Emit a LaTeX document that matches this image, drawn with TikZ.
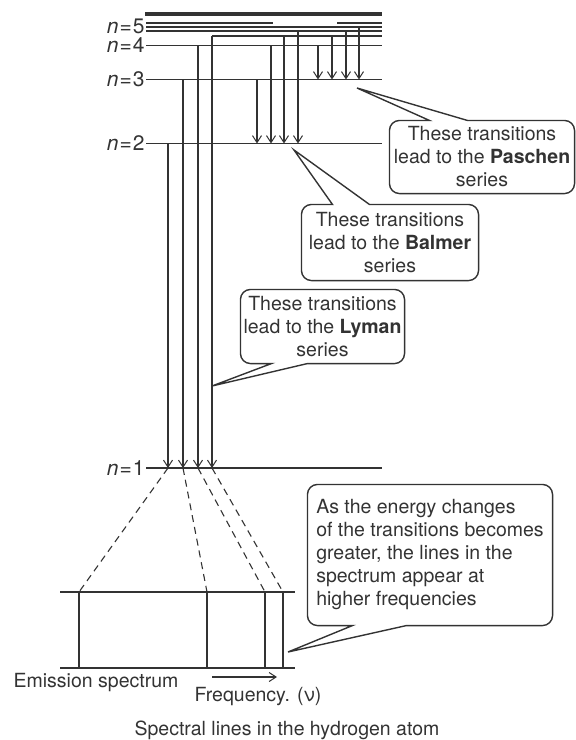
\documentclass[tikz,border=0pt]{standalone}
\usepackage{fontspec}
\setmainfont{TeX Gyre Heros}
\usepackage{tikz}
\usetikzlibrary{calc}
\usetikzlibrary{arrows.meta}

\begin{document}
\begin{tikzpicture}[x=1pt,y=-1pt,color=black!80,line width=1.1pt,
	  level/.style={line width=1.2pt},
	  trans/.style={-{Straight Barb[length=7pt,width=9pt,line width=1pt]},line width=1.1pt},
	  proj/.style={dash pattern=on 7pt off 5pt,line width=1.1pt},
	  callout/.style={line width=1.4pt},
	  note/.style={font=\fontsize{19.5}{23}\selectfont,align=center,inner sep=0pt},
	  lbl/.style={font=\fontsize{21}{24}\selectfont,anchor=east,inner sep=1pt}]

	  \useasboundingbox (0,0) rectangle (576,740);

	  \coordinate (lvtop) at (0,14);
	  \coordinate (lv8) at (0,23);
	  \coordinate (lv7) at (0,27);
	  \coordinate (lv6) at (0,31);
	  \coordinate (lv5) at (0,36);
	  \coordinate (lv4) at (0,45.5);
	  \coordinate (lv3) at (0,79.5);
	  \coordinate (lv2) at (0,143.5);
	  \coordinate (lv1) at (0,468);

	  \node[lbl] (n5) at (146,26) {\textit{n}\kern1pt=\kern1pt5};
	  \node[lbl] (n4) at (146,45.5) {\textit{n}\kern1pt=\kern1pt4};
	  \node[lbl] (n3) at (146,79.5) {\textit{n}\kern1pt=\kern1pt3};
	  \node[lbl] (n2) at (146,143.5) {\textit{n}\kern1pt=\kern1pt2};
	  \node[lbl] (n1) at (146,468) {\textit{n}\kern1pt=\kern1pt1};

	  \draw[line width=4pt] (145,0 |- lvtop) -- (382,0 |- lvtop);
	  \draw[level] (146,0 |- lv8) -- (273,0 |- lv8) (337,0 |- lv8) -- (382,0 |- lv8);
	  \foreach \k in {1,2,3,4,6,7}
	    \draw[level] (146,0 |- lv\k) -- (382,0 |- lv\k);
	  \draw[level] (212,0 |- lv5) -- (382,0 |- lv5);

	  \foreach \x/\a/\b in {168/2/1,183/3/1,198/4/1,212/5/1,
	                        257/3/2,271/4/2,284/5/2,298/6/2,
	                        318/4/3,332/5/3,346/6/3,359/7/3}
	    \draw[trans] (\x,0 |- lv\a) -- (\x,0 |- lv\b);

	  \coordinate (sp1) at (79,592);
	  \coordinate (sp2) at (207,592);
	  \coordinate (sp3) at (265,592);
	  \coordinate (sp4) at (283,592);
	  \coordinate (spbot) at (0,668);
	  \foreach \x/\s in {168/1,183/2,198/3,212/4}
	    \draw[proj] (\x,0 |- lv1) -- (sp\s);
	  \draw (60,0 |- sp1) -- (295,0 |- sp1);
	  \draw (60,0 |- spbot) -- (295,0 |- spbot);
	  \foreach \s in {1,...,4}
	    \draw (sp\s) -- (sp\s |- spbot);

	  \coordinate (fa) at (212,677);
	  \coordinate (fb) at (277,677);
	  \draw[-{Straight Barb[length=7pt,width=9pt,line width=1pt]}] (fa) -- (fb);

	  \node[note] (emis) at (96,683) {Emission spectrum};
	  \node[note] (freq) at (258,697) {Frequency. (ν)};
	  \node[note] (capt) at (287,730) {Spectral lines in the hydrogen atom};

	  \node[note,minimum width=184pt,minimum height=72pt] (pas) at (482,157)
	    {These transitions\\lead to the \textbf{Paschen}\\series};
	  \coordinate (pastip) at (357,88);
	  \draw[callout] ($(pas.north west)+(40,0)$) [rounded corners=10pt] -- (pas.north west)
	    -- (pas.south west) -- (pas.south east) -- (pas.north east) [sharp corners]
	    -- ($(pas.north west)+(78,0)$) -- (pastip) -- cycle;

	  \node[note,minimum width=176pt,minimum height=75pt] (bal) at (390,242.5)
	    {These transitions\\lead to the \textbf{Balmer}\\series};
	  \coordinate (baltip) at (294,150);
	  \draw[callout] ($(bal.north west)+(31,0)$) [rounded corners=10pt] -- (bal.north west)
	    -- (bal.south west) -- (bal.south east) -- (bal.north east) [sharp corners]
	    -- ($(bal.north west)+(68,0)$) -- (baltip) -- cycle;

	  \node[note,minimum width=163pt,minimum height=73pt] (lym) at (322.5,326.5)
	    {These transitions\\lead to the \textbf{Lyman}\\series};
	  \coordinate (lymtip) at (212,386);
	  \draw[callout] ($(lym.south west)+(31,0)$) [rounded corners=10pt] -- (lym.south west)
	    -- (lym.north west) -- (lym.north east) -- (lym.south east) [sharp corners]
	    -- ($(lym.south west)+(67,0)$) -- (lymtip) -- cycle;

	  \node[note,align=left,minimum width=244pt,minimum height=140pt] (ene) at (430,555)
	    {As the energy changes\\of the transitions becomes\\greater, the lines in the\\spectrum appear at\\higher frequencies};
	  \coordinate (enetip) at (288,652);
	  \draw[callout] ($(ene.south west)+(45,0)$) [rounded corners=10pt] -- (ene.south west)
	    -- (ene.north west) -- (ene.north east) -- (ene.south east) [sharp corners]
	    -- ($(ene.south west)+(99,0)$) -- (enetip) -- cycle;
	\end{tikzpicture}
\end{document}
